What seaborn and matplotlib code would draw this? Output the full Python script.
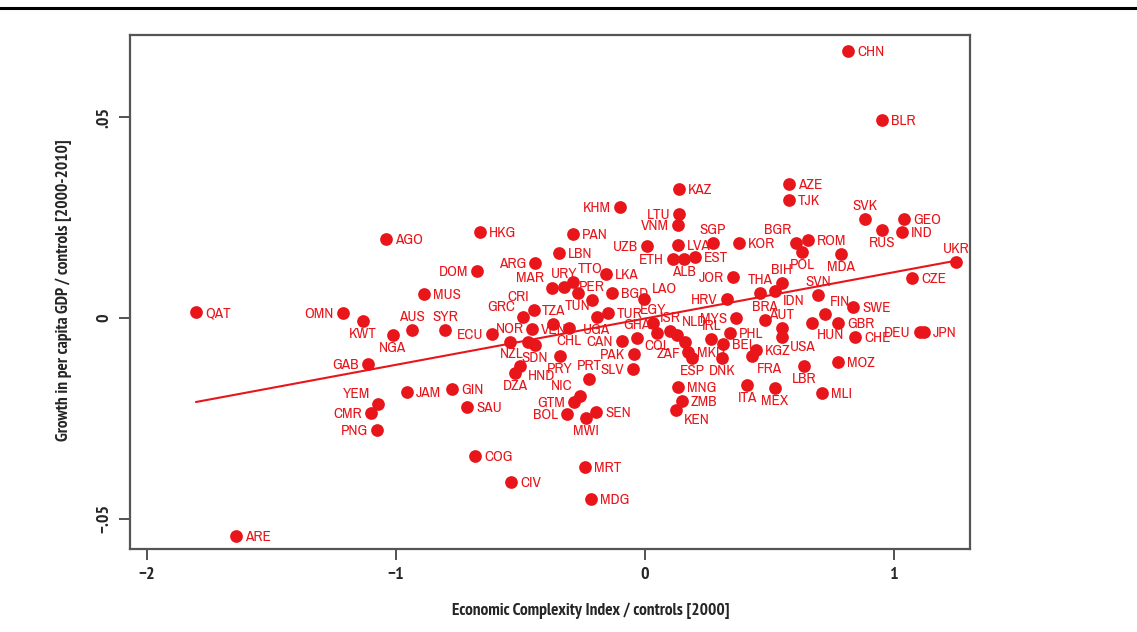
import numpy as np
import pandas as pd
import matplotlib
matplotlib.use('Agg')
import matplotlib.pyplot as plt
import seaborn as sns
from matplotlib.lines import Line2D
from matplotlib.path import Path
from matplotlib.transforms import Affine2D
from matplotlib import font_manager as fm

# ---------------------------------------------------------
# data
# ---------------------------------------------------------
CODES = ['CHN', 'BLR', 'KAZ', 'AZE', 'TJK', 'KHM', 'LTU', 'VNM', 'SVK', 'GEO',
         'IND', 'RUS', 'HKG', 'AGO', 'PAN', 'SGP', 'KOR', 'BGR', 'ROM', 'POL',
         'MDA', 'UZB', 'LVA', 'LBN', 'ETH', 'ALB', 'EST', 'DOM', 'ARG', 'LKA',
         'URY', 'TTO', 'MAR', 'PER', 'TUN', 'CHL', 'TZA', 'VEN', 'CRI', 'GRC',
         'NOR', 'NZL', 'SDN', 'ECU', 'HND', 'DZA', 'PRY', 'PRT', 'SLV', 'PAK',
         'CAN', 'GHA', 'UGA', 'TUR', 'EGY', 'ISR', 'NLD', 'COL', 'ZAF', 'MKD',
         'ESP', 'DNK', 'BEL', 'IRL', 'MYS', 'PHL', 'HRV', 'JOR', 'LAO', 'BGD',
         'SYR', 'AUS', 'NGA', 'KWT', 'OMN', 'QAT', 'MUS', 'GAB', 'ARE', 'YEM',
         'CMR', 'PNG', 'JAM', 'GIN', 'SAU', 'COG', 'CIV', 'MRT', 'MDG', 'NIC',
         'GTM', 'BOL', 'MWI', 'SEN', 'MNG', 'ZMB', 'KEN', 'ITA', 'MEX', 'MLI',
         'LBR', 'MOZ', 'KGZ', 'FRA', 'USA', 'AUT', 'BRA', 'THA', 'IDN', 'BIH',
         'SVN', 'FIN', 'SWE', 'GBR', 'HUN', 'CHE', 'DEU', 'JPN', 'UKR', 'CZE']

ECI = [0.815, 0.952, 0.137, 0.578, 0.578, -0.100, 0.137, 0.133, 0.884, 1.040,
       1.032, 0.952, -0.663, -1.040, -0.289, 0.273, 0.378, 0.606, 0.655, 0.631,
       0.787, 0.008, 0.133, -0.345, 0.112, 0.157, 0.201, -0.675, -0.442, -0.157,
       -0.325, -0.289, -0.373, -0.213, -0.269, -0.305, -0.369, -0.454, -0.446, -0.490,
       -0.542, -0.470, -0.442, -0.614, -0.502, -0.522, -0.341, -0.225, -0.048, -0.044,
       -0.092, -0.032, -0.193, -0.149, 0.032, 0.100, 0.129, 0.048, 0.161, 0.173,
       0.189, 0.309, 0.313, 0.267, 0.365, 0.341, 0.329, 0.353, -0.004, -0.133,
       -0.803, -0.936, -1.012, -1.133, -1.213, -1.803, -0.888, -1.112, -1.643, -1.072,
       -1.100, -1.076, -0.956, -0.775, -0.715, -0.683, -0.538, -0.241, -0.217, -0.261,
       -0.285, -0.313, -0.237, -0.197, 0.133, 0.149, 0.124, 0.410, 0.522, 0.711,
       0.639, 0.775, 0.446, 0.430, 0.550, 0.550, 0.482, 0.462, 0.522, 0.550,
       0.695, 0.723, 0.835, 0.775, 0.671, 0.843, 1.104, 1.120, 1.249, 1.072]

GROWTH = [0.0664, 0.0493, 0.0321, 0.0333, 0.0294, 0.0276, 0.0259, 0.0231, 0.0246, 0.0246,
          0.0214, 0.0219, 0.0214, 0.0197, 0.0209, 0.0187, 0.0187, 0.0187, 0.0194, 0.0164,
          0.0159, 0.0179, 0.0182, 0.0162, 0.0147, 0.0147, 0.0152, 0.0117, 0.0137, 0.0109,
          0.0077, 0.0090, 0.0075, 0.0045, 0.0062, -0.0025, -0.0015, -0.0027, 0.0020, 0.0002,
          -0.0060, -0.0060, -0.0067, -0.0040, -0.0119, -0.0137, -0.0095, -0.0152, -0.0127, -0.0090,
          -0.0057, -0.0050, 0.0002, 0.0012, -0.0012, -0.0032, -0.0042, -0.0037, -0.0060, -0.0085,
          -0.0100, -0.0100, -0.0065, -0.0052, 0.0000, -0.0037, 0.0047, 0.0102, 0.0047, 0.0062,
          -0.0030, -0.0030, -0.0042, -0.0007, 0.0012, 0.0015, 0.0060, -0.0114, -0.0542, -0.0214,
          -0.0236, -0.0279, -0.0184, -0.0177, -0.0221, -0.0343, -0.0408, -0.0371, -0.0450, -0.0194,
          -0.0209, -0.0239, -0.0249, -0.0234, -0.0172, -0.0206, -0.0229, -0.0167, -0.0174, -0.0187,
          -0.0119, -0.0109, -0.0080, -0.0095, -0.0047, -0.0025, -0.0005, 0.0062, 0.0067, 0.0087,
          0.0057, 0.0010, 0.0027, -0.0012, -0.0012, -0.0047, -0.0035, -0.0035, 0.0139, 0.0100]

X_TICKS = [-2, -1, 0, 1]
X_TICK_LABELS = ['\u22122', '\u22121', '0', '1']
Y_TICKS = [-0.05, 0, 0.05]
Y_TICK_LABELS = ['\u2212.05', '0', '.05']

# label placement, Stata style clock positions (default 3 = right)
LABEL_CLOCK = {
    'KHM': 9, 'LTU': 9, 'VNM': 9, 'SVK': 12, 'RUS': 6, 'SGP': 12, 'BGR': 11,
    'POL': 6, 'MDA': 6, 'UZB': 9, 'ETH': 9, 'ALB': 6, 'DOM': 9, 'ARG': 9,
    'URY': 12, 'TTO': 1, 'MAR': 10, 'PER': 12, 'TUN': 6, 'CHL': 6, 'TZA': 12,
    'CRI': 11, 'GRC': 10, 'NOR': 12, 'NZL': 7, 'SDN': 6, 'ECU': 9, 'HND': 4,
    'DZA': 6, 'PRY': 6, 'PRT': 12, 'SLV': 9, 'PAK': 9, 'CAN': 9, 'GHA': 12,
    'UGA': 6, 'EGY': 12, 'ISR': 12, 'NLD': 1, 'COL': 6, 'ZAF': 7, 'ESP': 6,
    'DNK': 6, 'IRL': 12, 'MYS': 9, 'HRV': 9, 'JOR': 9, 'LAO': 2, 'BGD': 3,
    'SYR': 12, 'AUS': 12, 'NGA': 6, 'KWT': 6, 'OMN': 9, 'GAB': 9, 'YEM': 10,
    'CMR': 9, 'PNG': 9, 'NIC': 10, 'GTM': 9, 'BOL': 9, 'MWI': 6, 'KEN': 4,
    'ITA': 6, 'MEX': 6, 'LBR': 6, 'FRA': 5, 'USA': 4, 'AUT': 12, 'BRA': 12,
    'THA': 12, 'IDN': 4, 'BIH': 12, 'SVN': 12, 'FIN': 1, 'HUN': 5, 'DEU': 9,
    'UKR': 12,
}

RED = '#e8151b'
DARK = '#262626'


def narrow_font(bold=False):
    # look for a narrow / condensed face among the installed fonts
    best = None
    for f in fm.fontManager.ttflist:
        fname = f.fname.lower()
        if f.style != 'normal' or 'italic' in fname or 'oblique' in fname:
            continue
        if not ('narrow' in fname or 'condensed' in fname or f.stretch not in ('normal', 400, 500)):
            continue
        if ('bold' in fname) != bold:
            continue
        score = 0 if 'narrow' in fname else 1
        if best is None or score < best[0]:
            best = (score, f.fname)
    return best[1] if best else None


NARROW = narrow_font()
NARROW_BOLD = narrow_font(bold=True) or NARROW


def fprop(size, bold=False):
    path = NARROW_BOLD if bold else NARROW
    if path:
        return fm.FontProperties(fname=path, size=size)
    return fm.FontProperties(family='DejaVu Sans', size=size * 0.85,
                             weight='bold' if bold else 'normal')


df = pd.DataFrame({'code': CODES, 'eci': ECI, 'growth': GROWTH})

# ---------------------------------------------------------
# plot
# ---------------------------------------------------------
sns.set_style('ticks')

fig = plt.figure(figsize=(11.37, 6.32), dpi=100)
ax = fig.add_axes([0.1143, 0.1313, 0.7388, 0.8133])

# slightly wide dots as in the printed figure
dot = Path.unit_circle().transformed(Affine2D().scale(1.16, 1.0))

sns.regplot(data=df, x='eci', y='growth', ax=ax, ci=None,
            scatter_kws={'s': 84, 'color': RED, 'alpha': 1, 'linewidths': 0,
                         'marker': dot},
            line_kws={'color': RED, 'lw': 1.5})

lab_fp = fprop(11)
for _, row in df.iterrows():
    c = LABEL_CLOCK.get(row['code'], 3)
    ang = np.deg2rad(90 - 30 * c)
    dx, dy = 6.5 * np.cos(ang), 4.5 * np.sin(ang)
    ha = 'left' if np.cos(ang) > 0.3 else ('right' if np.cos(ang) < -0.3 else 'center')
    va = 'bottom' if np.sin(ang) > 0.3 else ('top' if np.sin(ang) < -0.3 else 'center')
    if va == 'center':
        dy -= 0.8
    ax.annotate(row['code'], (row['eci'], row['growth']), xytext=(dx, dy),
                textcoords='offset points', ha=ha, va=va, color=RED,
                fontproperties=lab_fp)

ax.set_xlim(-2.068, 1.305)
ax.set_ylim(-0.0575, 0.0704)
ax.set_xticks(X_TICKS)
ax.set_xticklabels(X_TICK_LABELS)
ax.set_yticks(Y_TICKS)
ax.set_yticklabels(Y_TICK_LABELS, rotation=90, va='center')
ax.tick_params(axis='both', length=8, width=1.3, color='#444444', labelcolor=DARK, pad=5)
tick_fp = fprop(13, bold=True)
for t in ax.get_xticklabels() + ax.get_yticklabels():
    t.set_fontproperties(tick_fp)

for s in ax.spines.values():
    s.set_visible(True)
    s.set_color('#555555')
    s.set_linewidth(1.6)

title_fp = fprop(12.5, bold=True)
ax.set_xlabel('Economic Complexity Index / controls [2000]', fontproperties=title_fp,
              color=DARK)
ax.set_ylabel('Growth in per capita GDP / controls [2000-2010]', fontproperties=title_fp,
              color=DARK)
ax.xaxis.set_label_coords(0.549, -0.105)
ax.yaxis.set_label_coords(-0.069, 0.504)

# rule along the top of the page
fig.add_artist(Line2D([0, 1], [1 - 8 / 632, 1 - 8 / 632], color='black', lw=2.2))

plt.savefig('out.png', dpi=100)
